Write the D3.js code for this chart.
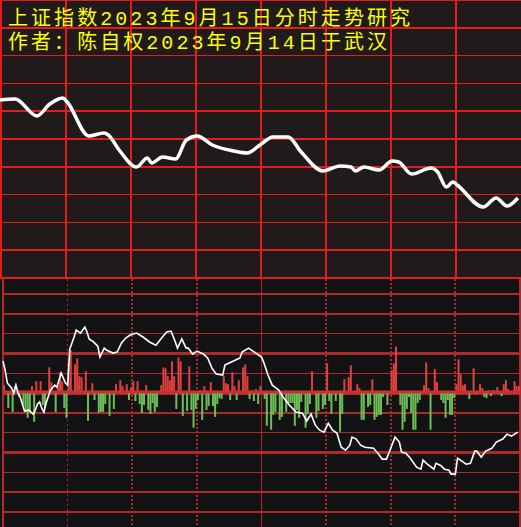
<!DOCTYPE html>
<html>
<head>
<meta charset="utf-8">
<script src="https://cdn.jsdelivr.net/npm/d3@7"></script>
<style>
  html, body { margin: 0; padding: 0; background: #131316; }
  svg { display: block; }
</style>
</head>
<body>
<svg id="chart" width="521" height="527"></svg>
<script>
// title lines
let titleLines = ['上证指数2023年9月15日分时走势研究', '作者：陈自权2023年9月14日于武汉'];

// top panel: index price, minute of session -> level
let priceMinutes = [0, 7, 17, 23, 29, 31, 41, 48, 50, 55, 63, 68, 70, 75, 81, 86, 91, 98, 108, 114,
    120, 126, 133, 139, 149, 157, 162, 164, 168, 175, 181, 184, 190, 199, 202, 206, 209, 211, 223, 229, 234, 239];
let priceValues = [3125.61, 3125.76, 3123.31, 3125.04, 3125.90, 3125.32, 3120.43, 3120.86, 3120.58, 3118.42,
    3115.97, 3117.27, 3116.55, 3117.41, 3117.12, 3119.86, 3120.43, 3119.14, 3118.27, 3117.99,
    3119.14, 3120.29, 3120.29, 3118.13, 3115.40, 3116.12, 3115.97, 3115.40, 3115.97, 3115.54,
    3116.84, 3116.69, 3114.96, 3115.83, 3115.25, 3113.09, 3113.81, 3113.38, 3110.22, 3111.51, 3110.36, 3111.51];
let priceTicks = d3.range(3100, 3141, 4);
let timeTicks = d3.range(0, 240, 30);

// bottom panel: flow bars (red up / green down)
let flowMinutes = [0, 2, 4, 5, 7, 9, 10, 11, 12, 13, 14, 15, 17, 18, 19, 21, 22, 24, 25, 26, 27, 28, 29, 30, 31, 33, 34, 35, 36, 38, 39,
    41, 42, 44, 45, 46, 47, 49, 51, 52, 54, 55, 57, 58, 59, 60, 61, 62, 63, 64, 65, 66, 67, 68, 69, 70, 71, 72, 73, 74, 75, 76, 77, 78, 79,
    80, 81, 82, 83, 85, 86, 87, 88, 89, 90, 91, 92, 93, 94, 95, 96, 97, 98, 99, 100, 101, 102, 103, 104, 105, 106, 107, 108, 109,
    111, 112, 113, 114, 115, 116, 117, 118, 119, 121, 122, 124, 125, 126, 128, 129, 131, 132, 133, 134, 135, 136, 137, 138,
    140, 141, 142, 143, 145, 146, 148, 149, 150, 151, 152, 154, 156, 157, 158, 160, 161, 164, 165, 166, 167, 169, 170, 171, 172,
    173, 174, 175, 176, 178, 180, 181, 182, 184, 185, 186, 187, 188, 189, 190, 191, 192, 193, 195, 196, 197, 198, 200, 201,
    203, 204, 205, 206, 207, 208, 209, 210, 211, 212, 213, 214, 216, 218, 219, 221, 222, 223, 224, 225, 226, 227, 229, 231,
    232, 233, 234, 237, 238, 239];
let flowValues = [4, -7.5, -9.5, 3.5, -2, -6, -9.5, -12.5, -9.5, 3.5, -14.5, 6, 6, -6, -7.5, 13, 5.5, -9.5, 4, 10.5, 6, -7.5, -12.5, 15.5, 21.5, 14.5, 17.5, 8.5, 8, 11, -14,
    5, -3.5, -10, -9.5, -9.5, -5.5, -11.5, -8, 4.5, 6.5, 3.5, 4.5, -3.5, 3, 6, -4, 6, -5.5, -10, -6, 4, -8.5, -10.5, -5, -9.5, -7, 1, 4, 13, 12.5, 8.5, 6.5, 16, 8.5,
    -8, 18, 16, -11.5, -9, 13.5, -8.5, -17.5, -8, -3.5, 1.5, -13.5, 3.5, -8.5, -6.5, 5.5, -6.5, -12, -5.5, -2.5, -3, 8.5, 5, 4.5, -3.5, 10.5, 3.5, -3.5, 6.5,
    13, 14.5, 8.5, -3, 1.5, -4, 2, -5.5, 3.5, -3, -16.5, -18.5, -11, -9.5, -13.5, -12, -9.5, -5, -5, -5, -16.5, -8.5, -12.5, -4.5,
    -17.5, -10.5, -5.5, 11, -12.5, -9, -8, -6, 15, -4, -10.5, -4, -19.5, -10.5, 7, 8, 14, 4.5, 2.5, -13.5, -13.5, -7, -6, 7, -13.5,
    -12, -11, -11, -2, -6, 11.5, 15, 23.5, -6, -18.5, -14.5, -8, -2, -10, -18.5, -18.5, -5, -3.5, 4, 15.5, 2.5, -18.5, 12, 5.5,
    -3.5, -5, -12.5, -3.5, -11, -11, -2.5, 4.5, 17, 9.5, 4, 4.5, -3, 12.5, -0.5, 4.5, 2.5, -2, -2.5, 1.5, -1.5, 1.5, 3, -1.5,
    4.5, 6.5, 2, 6, 3.5, 3.5];

// bottom panel: white indicator line
let lineMinutes = [0, 1, 2, 4, 5, 6, 7, 8, 9, 10, 12, 13, 14, 15, 16, 17, 18, 19, 20, 22, 24, 25, 27, 29, 30, 31, 33, 34, 36, 37, 38, 39,
    40, 42, 44, 45, 47, 48, 51, 53, 55, 57, 59, 62, 65, 68, 71, 74, 76, 78, 80, 81, 83, 85, 86, 88, 90, 93, 95, 97, 99,
    102, 103, 105, 108, 110, 111, 114, 116, 118, 120, 121, 123, 125, 128, 130, 133, 136, 139, 141, 143, 145, 147, 149,
    151, 153, 155, 157, 159, 161, 162, 164, 166, 168, 172, 174, 176, 178, 180, 182, 184, 185, 187, 189, 192, 194, 195,
    197, 200, 201, 203, 205, 207, 208, 210, 211, 213, 215, 217, 219, 220, 222, 224, 227, 229, 232, 234, 236, 239];
let lineValues = [16.2, 11.6, 5.1, 2.5, 0, 4, 0, -2, -5.6, -9.1, -8.6, -9.6, -10.6, -8.6, -5.6, -4.5, -7.6, -9.6, -5.1, 1.5, 4, 3, 10.1, 5.1, 4, 22.2, 28.3, 31.8, 30.3, 31.8, 33.3, 30.8,
    27.3, 25.8, 23.7, 18.2, 22.7, 21.7, 20.2, 20.7, 25.3, 27.8, 29.3, 30.3, 28.3, 25.8, 24.2, 28.3, 30.8, 31.3, 25.8, 22.7, 27.3, 22.7, 22.7, 19.7, 21.2, 19.7, 17.7, 12.6, 9.6,
    9.1, 14.1, 15.2, 16.7, 17.7, 20.7, 22.7, 21.2, 19.7, 18.2, 15.7, 9.1, 4, 1.5, -2, -6.1, -9.6, -10.1, -14.1, -10.6, -16.2, -18.7, -19.7,
    -15.2, -18.7, -20.2, -27.3, -28.8, -26.3, -22.2, -23.2, -26.3, -27.3, -27.8, -30.3, -33.3, -33.3, -27.8, -22.2, -24.7, -29.8, -30.3, -32.8, -37.4, -38.4, -33.8,
    -35.9, -38.4, -35.4, -36.4, -38.4, -38.9, -40.9, -40.9, -32.8, -34.3, -35.9, -35.4, -29.3, -29.3, -32.3, -29.3, -27.8, -24.7, -23.2, -20.7, -21.7, -19.7];
let flowTicks = d3.range(-60, 51, 10);
let flowThick = [20, 0, -30];

let svg = d3.select('#chart');
let W = 521, H = 527, split = 278;

let price = d3.zip(priceMinutes, priceValues).map(d => ({ m: d[0], v: d[1] }));
let flow = d3.zip(flowMinutes, flowValues).map(d => ({ m: d[0], v: d[1] }));
let ind = d3.zip(lineMinutes, lineValues).map(d => ({ m: d[0], v: d[1] }));

let xTop = d3.scaleLinear().domain([0, 240]).range([0, 520]);
let yTop = d3.scaleLinear().domain([3100, 3140]).range([split, 0]);
let xBot = d3.scaleLinear().domain([0, 240]).range([3, 520]);
let yBot = d3.scaleLinear().domain([-60, 50]).range([512, 294]);

// backgrounds
svg.append('rect').attr('x', 0).attr('y', 0).attr('width', W).attr('height', split).attr('fill', '#201a1a');
svg.append('rect').attr('x', 0).attr('y', split).attr('width', W).attr('height', H - split).attr('fill', '#131316');

// ---- top panel grid
let gTop = svg.append('g').attr('stroke', '#e01e1e').attr('shape-rendering', 'crispEdges');
gTop.selectAll('.hl')
    .data(priceTicks)
    .enter()
    .append('line')
    .attr('x1', 0).attr('x2', W)
    .attr('y1', d => yTop(d)).attr('y2', d => yTop(d))
    .attr('stroke-width', d => (d == 3140 || d == 3100) ? 2.5 : 1.5);
gTop.selectAll('.vl')
    .data(timeTicks)
    .enter()
    .append('line')
    .attr('x1', d => xTop(d) + 0.75).attr('x2', d => xTop(d) + 0.75)
    .attr('y1', 0).attr('y2', split)
    .attr('stroke-width', 1.5);

// price line
svg.append('path')
    .datum(price)
    .attr('fill', 'none')
    .attr('stroke', '#ffffff')
    .attr('stroke-width', 3.5)
    .attr('stroke-linejoin', 'round')
    .attr('d', d3.line()
        .x(d => xTop(d.m))
        .y(d => yTop(d.v))
        .curve(d3.curveMonotoneX));

// ---- bottom panel grid
let gBot = svg.append('g').attr('stroke', '#ad2a2a').attr('shape-rendering', 'crispEdges');
gBot.selectAll('.hl')
    .data(flowTicks)
    .enter()
    .append('line')
    .attr('x1', xBot(0)).attr('x2', xBot(240))
    .attr('y1', d => yBot(d)).attr('y2', d => yBot(d))
    .attr('stroke-width', d => flowThick.includes(d) ? 3 : 1.5);

gBot.selectAll('.vl')
    .data(timeTicks.filter(d => d > 0))
    .enter()
    .append('line')
    .attr('x1', d => xBot(d)).attr('x2', d => xBot(d))
    .attr('y1', split + 1).attr('y2', H)
    .attr('stroke-width', d => d == 120 ? 1 : (d == 30 ? 1 : 2))
    .attr('stroke-dasharray', d => d == 120 ? null : (d == 30 ? '1.5,3.5' : '2,2'));

// left / right borders of bottom panel
gBot.append('line')
    .attr('x1', xBot(0)).attr('x2', xBot(0))
    .attr('y1', split + 1).attr('y2', H)
    .attr('stroke-width', 1.5);
gBot.append('line')
    .attr('x1', xBot(240)).attr('x2', xBot(240))
    .attr('y1', split + 1).attr('y2', H)
    .attr('stroke-width', 2.5);

// flow bars
svg.append('g')
    .selectAll('rect')
    .data(flow)
    .enter()
    .append('rect')
    .attr('x', d => xBot(d.m))
    .attr('width', 2)
    .attr('y', d => d.v > 0 ? yBot(d.v) : yBot(0))
    .attr('height', d => Math.abs(yBot(d.v) - yBot(0)))
    .attr('fill', d => d.v > 0 ? '#e2403c' : '#6cbf56');

// zero line on top of the bars
svg.append('line')
    .attr('x1', xBot(0)).attr('x2', xBot(240))
    .attr('y1', yBot(0) - 1).attr('y2', yBot(0) - 1)
    .attr('stroke', '#c83232')
    .attr('stroke-width', 3);

// white indicator line
svg.append('path')
    .datum(ind)
    .attr('fill', 'none')
    .attr('stroke', '#ffffff')
    .attr('stroke-width', 1.6)
    .attr('d', d3.line()
        .x(d => xBot(d.m))
        .y(d => yBot(d.v)));

// top border line between panels
svg.append('line')
    .attr('x1', 0).attr('x2', W)
    .attr('y1', split).attr('y2', split)
    .attr('stroke', '#e01e1e')
    .attr('stroke-width', 2);

// title
svg.selectAll('.title')
    .data(titleLines)
    .enter()
    .append('text')
    .attr('x', 8)
    .attr('y', (d, i) => 25 + i * 24)
    .attr('textLength', (d, i) => i == 0 ? 402 : 379)
    .attr('lengthAdjust', 'spacing')
    .attr('fill', '#ffff00')
    .attr('font-family', '"Liberation Mono", "Noto Sans CJK SC", monospace')
    .attr('font-size', 20)
    .text(d => d);
</script>
</body>
</html>
